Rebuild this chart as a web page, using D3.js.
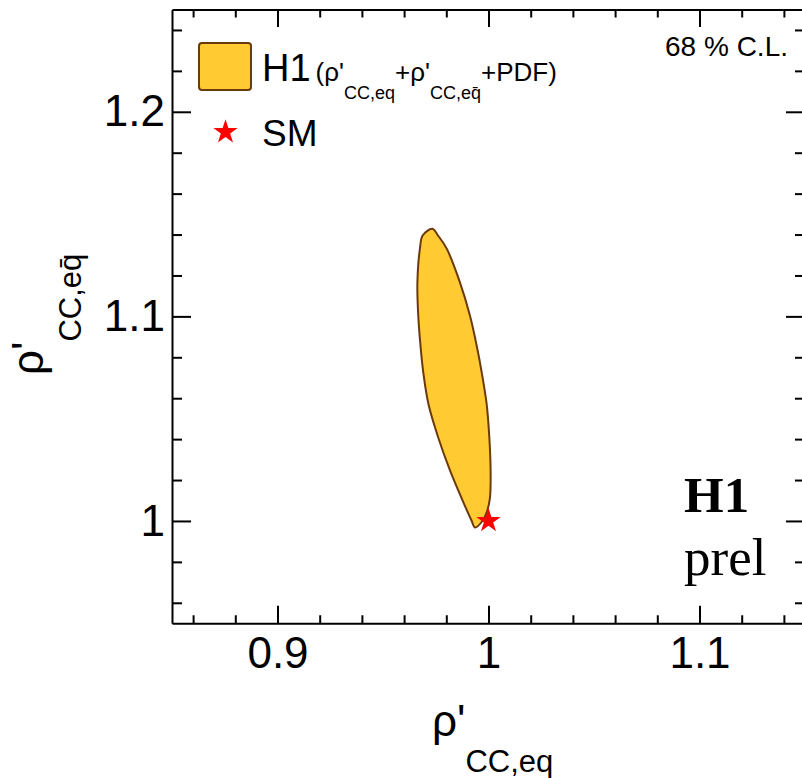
<!DOCTYPE html>
<html>
<head>
<meta charset="utf-8">
<script src="https://cdn.jsdelivr.net/npm/d3@7"></script>
<style>
  body { margin: 0; background: #fff; }
  svg { display: block; }
</style>
</head>
<body>
<div id="chart"></div>
<script>
// axis ranges and tick positions
const xDomain = [0.85, 1.15];
const yDomain = [0.95, 1.25];
const xMajor = [0.9, 1.0, 1.1];
const xMinor = [0.86, 0.88, 0.92, 0.94, 0.96, 0.98, 1.02, 1.04, 1.06, 1.08, 1.12, 1.14];
const yMajor = [1.0, 1.1, 1.2];
const yMinor = [0.96, 0.98, 1.02, 1.04, 1.06, 1.08, 1.12, 1.14, 1.16, 1.18, 1.22, 1.24];

// 68% C.L. contour (rho'_CC,eq , rho'_CC,eqbar)
const contour = [
  [0.9734, 1.1428], [0.9761, 1.1395], [0.9802, 1.1331], [0.9865, 1.1165],
  [0.9912, 1.1004], [0.9947, 1.0842], [0.9968, 1.0725], [0.9991, 1.0573],
  [1.0004, 1.0407], [1.0010, 1.0246], [1.0007, 1.0114], [0.9994, 1.0050],
  [0.9972, 1.0001], [0.9936, 0.9968], [0.9920, 1.0001], [0.9884, 1.0084],
  [0.9818, 1.0246], [0.9762, 1.0407], [0.9715, 1.0573], [0.9691, 1.0725],
  [0.9679, 1.0842], [0.9667, 1.1004], [0.9663, 1.1165], [0.9675, 1.1331],
  [0.9688, 1.1395]
];
// Standard Model point
const smPoint = [1.0, 1.0];

const margin = { left: 172, top: 9.5 };
const w = 633;
const h = 613.75;
const sans = "'Liberation Sans', Arial, Helvetica, sans-serif";
const serif = "'Liberation Serif', 'Times New Roman', serif";
const fillCol = "#FFCA32";
const edgeCol = "#6B3A0B";

var svg = d3.select("#chart").append("svg")
  .attr("width", 802)
  .attr("height", 778);

var g = svg.append("g")
  .attr("transform", "translate(" + margin.left + "," + margin.top + ")");

var x = d3.scaleLinear().domain(xDomain).range([0, w]);
var y = d3.scaleLinear().domain(yDomain).range([h, 0]);

// contour
var line = d3.line()
  .x((d) => x(d[0]))
  .y((d) => y(d[1]))
  .curve(d3.curveCatmullRomClosed);

g.append("path")
  .datum(contour)
  .attr("d", line)
  .attr("fill", fillCol)
  .attr("stroke", edgeCol)
  .attr("stroke-width", 2);

// SM star
var star = d3.symbol(d3.symbolStar, 185);
g.append("path")
  .attr("d", star)
  .attr("transform", "translate(" + x(smPoint[0]) + "," + y(smPoint[1]) + ")")
  .attr("fill", "#ff0000");

// axes: major + minor ticks on all four sides, pointing inwards
function styleAxis(sel) {
  sel.selectAll("line, path").attr("stroke", "#000").attr("stroke-width", 2);
  sel.selectAll("text").style("font-family", sans).style("font-size", "44px").attr("fill", "#000");
}
var fmt = d3.format("~g");

var gxB = g.append("g").attr("transform", "translate(0," + h + ")")
  .call(d3.axisBottom(x).tickValues(xMajor).tickSize(-17.5).tickSizeOuter(0).tickFormat(fmt));
gxB.selectAll("text").attr("y", 44.5).attr("dy", null);
styleAxis(gxB);
var gxBm = g.append("g").attr("transform", "translate(0," + h + ")")
  .call(d3.axisBottom(x).tickValues(xMinor).tickSize(-8).tickSizeOuter(0).tickFormat(""));
gxBm.select(".domain").remove();
styleAxis(gxBm);

var gxT = g.append("g")
  .call(d3.axisTop(x).tickValues(xMajor).tickSize(-17.5).tickSizeOuter(0).tickFormat(""));
styleAxis(gxT);
var gxTm = g.append("g")
  .call(d3.axisTop(x).tickValues(xMinor).tickSize(-8).tickSizeOuter(0).tickFormat(""));
gxTm.select(".domain").remove();
styleAxis(gxTm);

var gyL = g.append("g")
  .call(d3.axisLeft(y).tickValues(yMajor).tickSize(-19).tickSizeOuter(0).tickPadding(7).tickFormat(fmt));
styleAxis(gyL);
var gyLm = g.append("g")
  .call(d3.axisLeft(y).tickValues(yMinor).tickSize(-10).tickSizeOuter(0).tickFormat(""));
gyLm.select(".domain").remove();
styleAxis(gyLm);

var gyR = g.append("g").attr("transform", "translate(" + w + ",0)")
  .call(d3.axisRight(y).tickValues(yMajor).tickSize(-19).tickSizeOuter(0).tickFormat(""));
styleAxis(gyR);
var gyRm = g.append("g").attr("transform", "translate(" + w + ",0)")
  .call(d3.axisRight(y).tickValues(yMinor).tickSize(-10).tickSizeOuter(0).tickFormat(""));
gyRm.select(".domain").remove();
styleAxis(gyRm);

// axis titles
var xt = svg.append("text")
  .attr("x", 432).attr("y", 736)
  .style("font-family", sans).attr("fill", "#000");
xt.append("tspan").style("font-size", "44px").text("ρ'");
xt.append("tspan").style("font-size", "31px").attr("dy", 36).text("CC,eq");

var yt = svg.append("text")
  .attr("transform", "translate(43,375) rotate(-90)")
  .style("font-family", sans).attr("fill", "#000");
yt.append("tspan").style("font-size", "44px").text("ρ'");
yt.append("tspan").style("font-size", "31px").attr("dy", 38).text("CC,eq\u0304");

// legend
svg.append("rect")
  .attr("x", 199).attr("y", 43).attr("width", 52).attr("height", 47).attr("rx", 3)
  .attr("fill", fillCol).attr("stroke", edgeCol).attr("stroke-width", 2);

var lt = svg.append("text")
  .attr("x", 262).attr("y", 81)
  .style("font-family", sans).attr("fill", "#000");
lt.append("tspan").style("font-size", "38px").text("H1");
lt.append("tspan").style("font-size", "26px").attr("dx", 5).text("(ρ'");
lt.append("tspan").style("font-size", "18px").attr("dy", 18).text("CC,eq");
lt.append("tspan").style("font-size", "26px").attr("dy", -18).text("+ρ'");
lt.append("tspan").style("font-size", "18px").attr("dy", 18).text("CC,eq\u0304");
lt.append("tspan").style("font-size", "26px").attr("dy", -18).text("+PDF)");

svg.append("path")
  .attr("d", star)
  .attr("transform", "translate(225.5,132)")
  .attr("fill", "#ff0000");
svg.append("text")
  .attr("x", 262).attr("y", 146)
  .style("font-family", sans).style("font-size", "37px").attr("fill", "#000")
  .text("SM");

svg.append("text")
  .attr("x", 788).attr("y", 56)
  .attr("text-anchor", "end")
  .style("font-family", sans).style("font-size", "28px").attr("fill", "#000")
  .text("68 % C.L.");

// H1 prel mark
svg.append("text")
  .attr("x", 684).attr("y", 512)
  .style("font-family", serif).style("font-size", "51px").style("font-weight", "bold").attr("fill", "#000")
  .text("H1");
svg.append("text")
  .attr("x", 684).attr("y", 575)
  .style("font-family", serif).style("font-size", "53px").attr("fill", "#000")
  .text("prel");
</script>
</body>
</html>
